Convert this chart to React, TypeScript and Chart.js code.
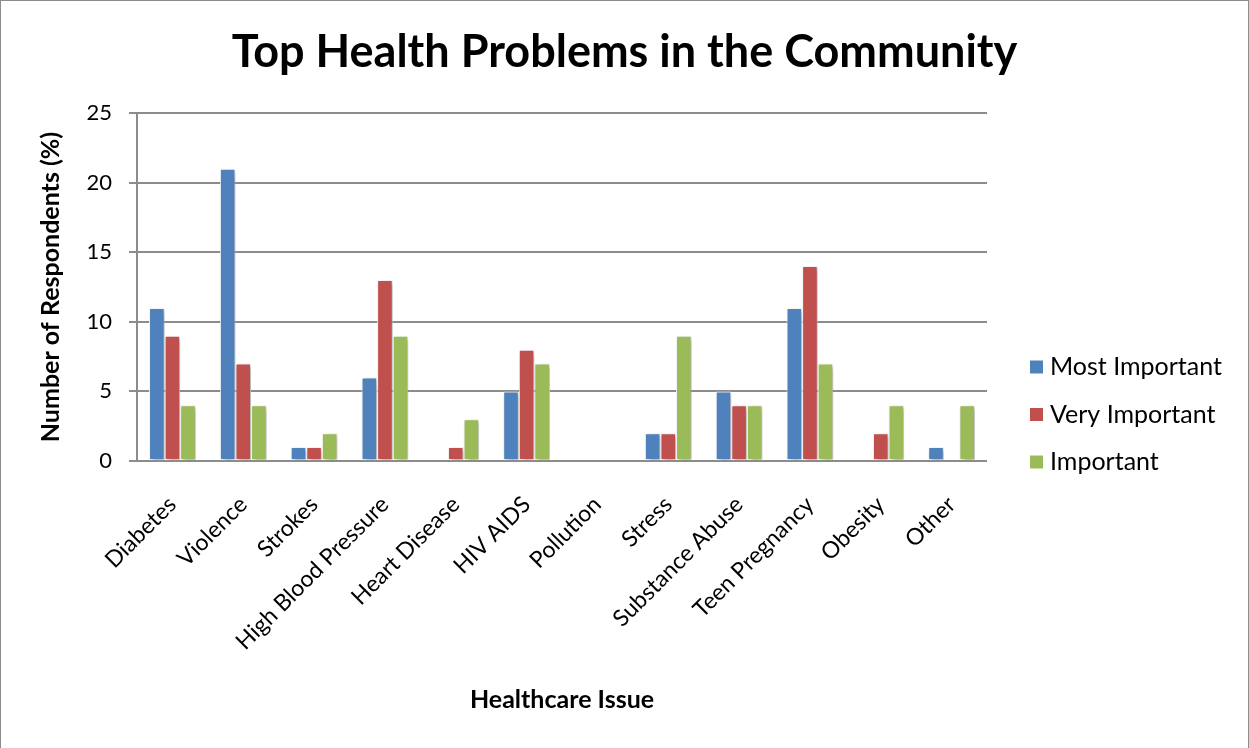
import React, { useEffect, useRef } from "react";
import { Chart, registerables } from "chart.js";

Chart.register(...registerables);

const categories = [
  "Diabetes",
  "Violence",
  "Strokes",
  "High Blood Pressure",
  "Heart Disease",
  "HIV AIDS",
  "Pollution",
  "Stress",
  "Substance Abuse",
  "Teen Pregnancy",
  "Obesity",
  "Other",
];

const mostImportant = [11, 21, 1, 6, 0, 5, 0, 2, 5, 11, 0, 1];
const veryImportant = [9, 7, 1, 13, 1, 8, 0, 2, 4, 14, 2, 0];
const important = [4, 4, 2, 9, 3, 7, 0, 9, 4, 7, 4, 4];

const seriesNames = ["Most Important", "Very Important", "Important"];
const seriesColors = ["#4F81BD", "#C0504D", "#9BBB59"];

const yTicks = [0, 5, 10, 15, 20, 25];

const chartTitle = "Top Health Problems in the Community";

const FONT = "Lato, 'Open Sans', sans-serif";

const frameTitleLegend = {
  id: "frameTitleLegend",
  beforeDatasetsDraw(chart: any) {
    const ctx = chart.ctx;
    ctx.save();
    ctx.shadowColor = "rgba(0,0,0,0.35)";
    ctx.shadowBlur = 5;
    ctx.shadowOffsetX = 2;
    ctx.shadowOffsetY = 2;
  },
  afterDatasetsDraw(chart: any) {
    chart.ctx.restore();
  },
  afterDraw(chart: any) {
    const ctx = chart.ctx;
    const w = chart.width;
    const h = chart.height;
    ctx.save();
    ctx.strokeStyle = "#8c8c8c";
    ctx.lineWidth = 2;
    ctx.beginPath();
    ctx.moveTo(0, h);
    ctx.lineTo(0, 0);
    ctx.lineTo(w, 0);
    ctx.lineTo(w, h);
    ctx.stroke();

    // title, centred on the whole chart
    ctx.fillStyle = "#000";
    ctx.font = `bold 45px ${FONT}`;
    ctx.textAlign = "center";
    ctx.textBaseline = "middle";
    ctx.fillText(chartTitle, w / 2, 52);

    // legend
    const area = chart.chartArea;
    const x0 = area.right + 43;
    const yStart = 367;
    const step = 47.5;
    ctx.font = `25px ${FONT}`;
    ctx.textBaseline = "middle";
    ctx.textAlign = "left";
    chart.data.datasets.forEach((ds: any, i: number) => {
      const cy = yStart + i * step;
      ctx.fillStyle = ds.backgroundColor;
      ctx.fillRect(x0, cy - 6.5, 13, 13);
      ctx.fillStyle = "#000";
      ctx.fillText(ds.label, x0 + 20, cy);
    });
    ctx.restore();
  },
};

export default function App() {
  const ref = useRef<HTMLCanvasElement>(null);
  useEffect(() => {
    document.body.style.margin = "0";
    const values = [mostImportant, veryImportant, important];
    const chart = new Chart(ref.current!, {
      type: "bar",
      data: {
        labels: categories,
        datasets: values.map((v, i) => ({
          label: seriesNames[i],
          data: v,
          backgroundColor: seriesColors[i],
          borderColor: "#ffffff",
          borderWidth: (c: any) => (c.raw === 0 ? 0 : 1),
          borderSkipped: false,
          categoryPercentage: 0.66,
          barPercentage: 1,
        })),
      },
      options: {
        animation: false,
        responsive: false,
        devicePixelRatio: 1,
        layout: { padding: { left: 36, right: 262, top: 113, bottom: 0 } },
        plugins: {
          legend: { display: false },
          tooltip: { enabled: false },
          title: { display: false },
        },
        scales: {
          x: {
            grid: { display: false },
            border: { display: false },
            ticks: {
              color: "#000",
              font: { family: FONT, size: 23 },
              maxRotation: 45,
              minRotation: 45,
              padding: 22,
              autoSkip: false,
            },
            title: {
              display: true,
              text: "Healthcare Issue",
              color: "#000",
              font: { family: FONT, size: 25, weight: "bold" },
              padding: { top: 0, bottom: 33 },
            },
            afterFit: (s: any) => {
              s.height = 287;
            },
          },
          y: {
            min: 0,
            max: 25,
            afterBuildTicks: (s: any) => {
              s.ticks = yTicks.map((v) => ({ value: v }));
            },
            grid: {
              color: "#8c8c8c",
              lineWidth: 2,
              drawTicks: true,
              tickLength: 8,
            },
            border: { display: true, color: "#8c8c8c", width: 2 },
            ticks: {
              color: "#000",
              font: { family: FONT, size: 22 },
              padding: 17,
            },
            title: {
              display: true,
              text: "Number of Respondents (%)",
              color: "#000",
              font: { family: FONT, size: 25, weight: "bold" },
              padding: { top: 0, bottom: 0 },
            },
            afterFit: (s: any) => {
              s.width = 101;
            },
          },
        },
      },
      plugins: [frameTitleLegend],
    } as any);
    return () => chart.destroy();
  }, []);
  return (
    <div style={{ position: "absolute", left: 0, top: 0, width: 1249, height: 748, background: "#fff" }}>
      <canvas ref={ref} width={1249} height={748} style={{ width: 1249, height: 748, display: "block" }} />
    </div>
  );
}
